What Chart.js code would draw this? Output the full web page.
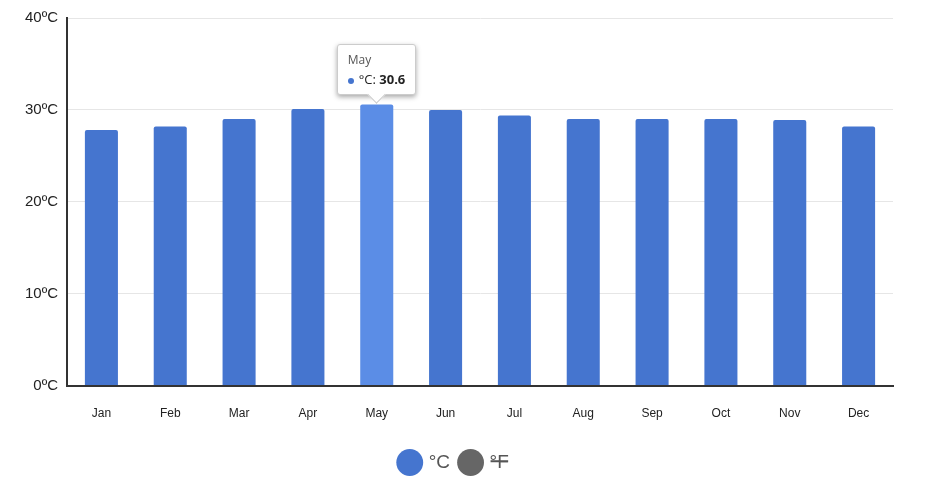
<!DOCTYPE html>
<html>
<head>
<meta charset="utf-8">
<script src="https://cdn.jsdelivr.net/npm/chart.js@4"></script>
<style>
  body { margin: 0; background: #fff; font-family: "Open Sans", sans-serif; }
  #wrap { position: relative; width: 926px; height: 487px; }
  #tip { position: absolute; background: #fff; border: 1px solid #ccc; border-radius: 3px;
         box-shadow: 0 2px 5px rgba(0,0,0,0.35); padding: 6px 10px; font-size: 13px; color: #222; pointer-events: none; }
  #tip .t { color: #555; font-size: 12px; margin-bottom: 2px; }
  #tip .dot { display: inline-block; width: 6px; height: 6px; border-radius: 50%; background: #4575cf; margin-right: 5px; vertical-align: middle; }
  #tip:after { content: ''; position: absolute; left: 50%; bottom: -7px; margin-left: -7px; width: 12px; height: 12px;
               background: #fff; transform: rotate(45deg); border-right: 1px solid #ccc; border-bottom: 1px solid #ccc; }
</style>
</head>
<body>
<div id="wrap"><canvas id="c" width="926" height="487"></canvas><div id="tip" style="display:none"></div></div>
<script>
const months = ['Jan','Feb','Mar','Apr','May','Jun','Jul','Aug','Sep','Oct','Nov','Dec'];
const celsius = [27.8, 28.2, 29.0, 30.1, 30.6, 30.0, 29.4, 29.0, 29.0, 29.0, 28.9, 28.2];
const fahrenheit = [82.0, 82.8, 84.2, 86.2, 87.1, 86.0, 84.9, 84.2, 84.2, 84.2, 84.0, 82.8];
const yTicks = [0, 10, 20, 30, 40];

function externalTip(ctx) {
  const tt = ctx.tooltip;
  const el = document.getElementById('tip');
  if (tt.opacity === 0 || !tt.dataPoints || !tt.dataPoints.length) { el.style.display = 'none'; return; }
  const p = tt.dataPoints[0];
  el.innerHTML = '<div class="t">' + p.label + '</div><div><span class="dot"></span>°C: <b>' + p.raw + '</b></div>';
  el.style.display = 'block';
  el.style.left = (tt.caretX - el.offsetWidth / 2) + 'px';
  el.style.top = (tt.caretY - el.offsetHeight - 9) + 'px';
}

const chart = new Chart(document.getElementById('c'), {
  type: 'bar',
  data: {
    labels: months,
    datasets: [
      { label: '°C', data: celsius, backgroundColor: '#4575cf', hoverBackgroundColor: '#5b8de6',
        borderRadius: 2, barPercentage: 0.48, categoryPercentage: 1 },
      { label: '°F', data: fahrenheit, backgroundColor: '#666', hidden: true,
        borderRadius: 2, barPercentage: 0.48, categoryPercentage: 1 }
    ]
  },
  options: {
    responsive: false,
    animation: false,
    layout: { padding: { left: 16, right: 33, top: 6, bottom: 5 } },
    scales: {
      x: {
        grid: { display: false, drawTicks: false },
        border: { color: '#333', width: 2 },
        ticks: { color: '#222', font: { size: 12 }, padding: 21 }
      },
      y: {
        min: 0, max: 40,
        afterBuildTicks: axis => { axis.ticks = yTicks.map(v => ({ value: v })); },
        grid: { color: '#e6e6e6', drawTicks: false },
        border: { color: '#333', width: 2 },
        ticks: { color: '#222', font: { size: 15 }, padding: 9, callback: v => v + 'ºC' }
      }
    },
    plugins: {
      legend: {
        position: 'bottom',
        labels: { usePointStyle: true, pointStyle: 'circle', boxWidth: 20, boxHeight: 20,
                  font: { size: 19 }, color: '#555', padding: 11 }
      },
      tooltip: { enabled: false, external: externalTip }
    }
  }
});

const act = [{ datasetIndex: 0, index: 4 }];
chart.setActiveElements(act);
chart.tooltip.setActiveElements(act, { x: 0, y: 0 });
chart.update('none');
</script>
</body>
</html>
